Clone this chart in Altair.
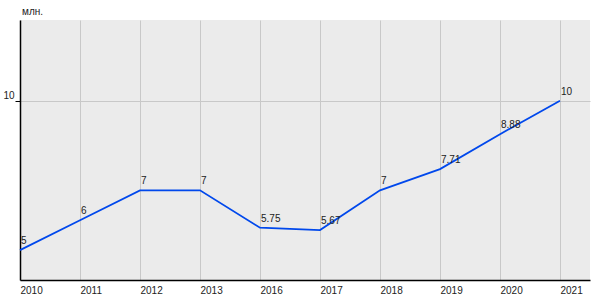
import altair as alt
import pandas as pd

years = ["2010", "2011", "2012", "2013", "2016", "2017", "2018", "2019", "2020", "2021"]
values = [5, 6, 7, 7, 5.75, 5.67, 7, 7.71, 8.88, 10]
labels = ["5", "6", "7", "7", "5.75", "5.67", "7", "7.71", "8.88", "10"]
unit_title = ["млн."]

df = pd.DataFrame({"i": list(range(len(years))), "year": years, "v": values, "lab": labels})

label_expr = "[" + ",".join(f"'{y}'" for y in years) + "][datum.value]"

x = alt.X("i:Q", scale=alt.Scale(domain=[0, 9.5], nice=False, zero=False),
          axis=alt.Axis(values=list(range(10)), labelExpr=label_expr, title=None,
                        grid=True, gridColor="#c8c8c8", gridWidth=1,
                        domainColor="black", domainWidth=1.5, ticks=False,
                        labelAlign="left", labelFont="Liberation Sans", labelFontSize=10,
                        labelColor="#222", labelPadding=5))
y = alt.Y("v:Q", scale=alt.Scale(domain=[4, 12.7], nice=False, zero=False),
          axis=alt.Axis(values=[10], title=None,
                        grid=True, gridColor="#c8c8c8", gridWidth=1,
                        domainColor="black", domainWidth=1.5, tickColor="black", tickSize=5,
                        labelFont="Liberation Sans", labelFontSize=10, labelColor="#222",
                        labelPadding=1, labelBaseline="bottom"))

line = alt.Chart(df).mark_line(color="#0048ec", strokeWidth=1.8).encode(x=x, y=y)
text = alt.Chart(df).mark_text(align="left", baseline="bottom", dx=1, dy=-4,
                               font="Liberation Sans", fontSize=10, color="#222").encode(
    x="i:Q", y="v:Q", text="lab:N")
title = alt.Chart(pd.DataFrame({"t": unit_title})).mark_text(
    align="left", baseline="middle", font="Liberation Sans", fontSize=10, color="#222"
).encode(x=alt.value(2), y=alt.value(-8), text="t:N")

chart = (line + text + title).properties(
    width=570, height=260,
    autosize=alt.AutoSizeParams(type="none"),
    padding={"left": 20, "top": 20, "right": 10, "bottom": 20},
    background="white",
).configure_view(fill="#ebebeb", stroke=None)

chart.save("out.html", embed_options={"renderer": "svg", "actions": False})
